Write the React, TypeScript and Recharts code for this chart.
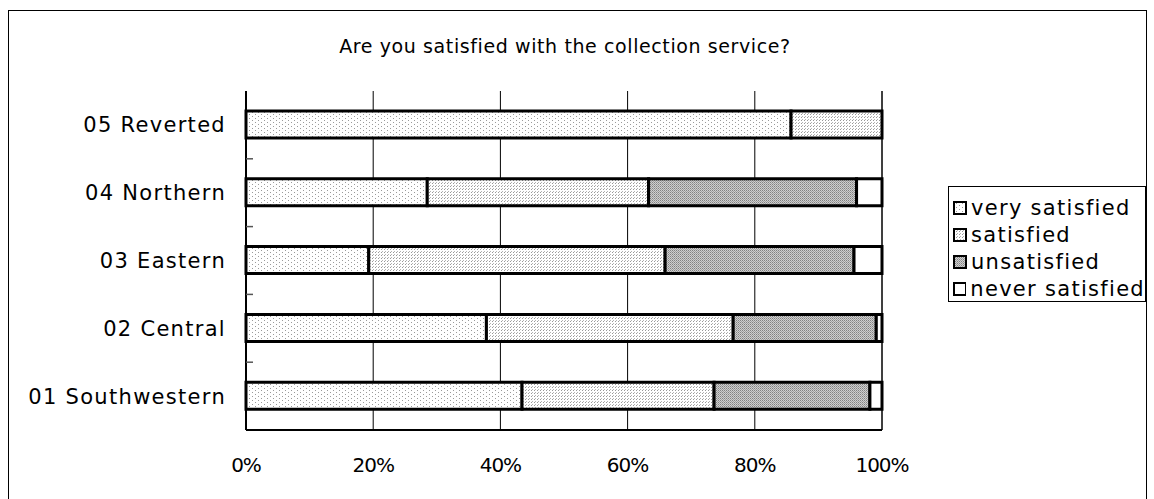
import { Bar, BarChart, CartesianGrid, XAxis, YAxis } from 'recharts';

// Satisfaction survey by district, stacked to 100% per row.
const categories = ['01 Southwestern', '02 Central', '03 Eastern', '04 Northern', '05 Reverted'];
const verySatisfied = [43.4, 37.8, 19.3, 28.5, 85.7];
const satisfied = [30.2, 38.8, 46.6, 34.8, 14.3];
const unsatisfied = [24.5, 22.5, 29.7, 32.7, 0];
const neverSatisfied = [1.9, 0.9, 4.4, 4.0, 0];
const percentTicks = [0, 20, 40, 60, 80, 100];

const SERIES = [
  { key: 'very', label: 'very satisfied', fill: 'url(#pat-very)', values: verySatisfied },
  { key: 'sat', label: 'satisfied', fill: 'url(#pat-sat)', values: satisfied },
  { key: 'unsat', label: 'unsatisfied', fill: 'url(#pat-unsat)', values: unsatisfied },
  { key: 'never', label: 'never satisfied', fill: '#ffffff', values: neverSatisfied },
];

const data = categories.map((name, i) => {
  const row: Record<string, string | number> = { name };
  for (const s of SERIES) row[s.key] = s.values[i];
  return row;
});

const FONT = '"DejaVu Sans", sans-serif';
const FRAME_GRAY = '#8c8c8c';
const LABEL_SIZE = 21;
const LABEL_SPACING = 1.3;

function Patterns() {
  return (
    <defs>
      <pattern id="pat-very" width="6" height="4" patternUnits="userSpaceOnUse">
        <rect width="6" height="4" fill="#fff" />
        <rect x="0" y="0" width="1" height="1" fill="#9a9a9a" />
        <rect x="3" y="2" width="1" height="1" fill="#9a9a9a" />
      </pattern>
      <pattern id="pat-sat" width="3" height="3" patternUnits="userSpaceOnUse">
        <rect width="3" height="3" fill="#fff" />
        <rect x="0" y="0" width="1" height="1" fill="#999" />
        <rect x="1" y="2" width="1" height="1" fill="#b5b5b5" />
      </pattern>
      <pattern id="pat-unsat" width="2" height="2" patternUnits="userSpaceOnUse">
        <rect width="2" height="2" fill="#cfcfcf" />
        <rect x="0" y="0" width="1" height="1" fill="#828282" />
        <rect x="1" y="1" width="1" height="1" fill="#a0a0a0" />
      </pattern>
    </defs>
  );
}

// Category label plus an inward tick mark on the band boundary above it.
function CategoryTick(props: any) {
  const { x, y, payload, index, visibleTicksCount } = props;
  const half = payload?.offset ?? 34;
  const axisX = x + 20;
  return (
    <g>
      <text
        x={x}
        y={y}
        dy="0.36em"
        textAnchor="end"
        fill="#000"
        fontSize={LABEL_SIZE}
        fontFamily={FONT}
        letterSpacing={LABEL_SPACING}
      >
        {payload.value}
      </text>
      {index < visibleTicksCount - 1 && (
        <line x1={axisX} x2={axisX + 7} y1={y - half} y2={y - half} stroke="#555" strokeWidth={1.5} />
      )}
    </g>
  );
}

function Swatch({ fill }: { fill: string }) {
  return (
    <svg width={14} height={14} style={{ display: 'block', marginRight: 4 }}>
      <Patterns />
      <rect x={1} y={1} width={12} height={12} fill={fill} stroke="#000" strokeWidth={2} />
    </svg>
  );
}

export default function App() {
  return (
    <div style={{ position: 'absolute', left: 0, top: 0, width: 1154, height: 499, background: '#fff', fontFamily: FONT }}>
      <div style={{ position: 'absolute', left: 8, top: 10, width: 1137, height: 500, border: '1px solid #000' }} />
      <div
        style={{
          position: 'absolute',
          left: 0,
          width: 1130,
          top: 35,
          textAlign: 'center',
          fontSize: 19,
          letterSpacing: 0.6,
          color: '#000',
        }}
      >
        Are you satisfied with the collection service?
      </div>
      <div style={{ position: 'absolute', left: 0, top: 0 }}>
        <BarChart
          width={1154}
          height={499}
          data={data}
          layout="vertical"
          barSize={27}
          margin={{ top: 91, right: 272, bottom: 29, left: 26 }}
        >
          <Patterns />
          <CartesianGrid horizontal={false} stroke="#000" strokeWidth={1} />
          <XAxis
            type="number"
            domain={[0, 100]}
            ticks={percentTicks}
            tickFormatter={(v) => `${v}%`}
            tickLine={false}
            tickSize={0}
            tickMargin={28}
            height={40}
            tick={{ fill: '#000', fontSize: 20, fontFamily: FONT, letterSpacing: -1 }}
            axisLine={{ stroke: '#000', strokeWidth: 2 }}
          />
          <XAxis
            xAxisId="top"
            orientation="top"
            type="number"
            domain={[0, 100]}
            height={0}
            tick={false}
            tickLine={false}
            axisLine={{ stroke: FRAME_GRAY, strokeWidth: 2 }}
          />
          <YAxis
            type="category"
            dataKey="name"
            reversed
            width={220}
            tickLine={false}
            tickSize={0}
            tickMargin={20}
            tick={<CategoryTick />}
            axisLine={{ stroke: '#000', strokeWidth: 2 }}
          />
          <YAxis
            yAxisId="right"
            orientation="right"
            type="category"
            dataKey="name"
            reversed
            width={0}
            tick={false}
            tickLine={false}
            axisLine={{ stroke: FRAME_GRAY, strokeWidth: 2 }}
          />
          {SERIES.map((s) => (
            <Bar
              key={s.key}
              dataKey={s.key}
              name={s.label}
              stackId="a"
              fill={s.fill}
              stroke="#000"
              strokeWidth={3}
              isAnimationActive={false}
            />
          ))}
        </BarChart>
      </div>
      <div
        style={{
          position: 'absolute',
          left: 948,
          top: 186,
          width: 198,
          height: 116,
          border: '1px solid #000',
          boxSizing: 'border-box',
          padding: '7px 0 0 4px',
        }}
      >
        {SERIES.map((s) => (
          <div
            key={s.key}
            style={{
              display: 'flex',
              alignItems: 'center',
              height: 27,
              fontSize: LABEL_SIZE,
              letterSpacing: LABEL_SPACING,
              whiteSpace: 'nowrap',
            }}
          >
            <Swatch fill={s.fill} />
            {s.label}
          </div>
        ))}
      </div>
    </div>
  );
}
